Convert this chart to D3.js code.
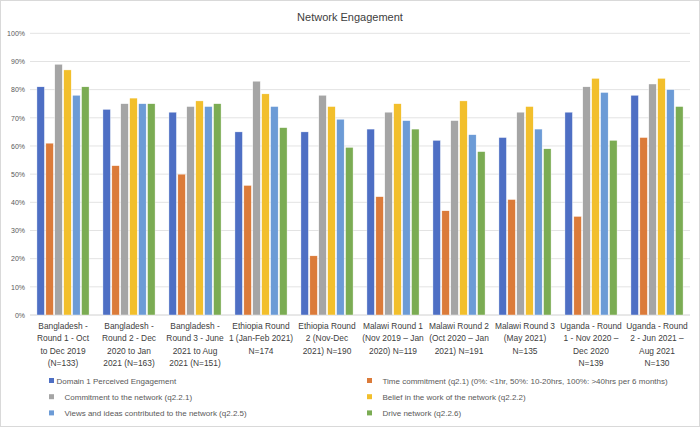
<!DOCTYPE html>
<html><head><meta charset="utf-8">
<script src="https://cdn.jsdelivr.net/npm/d3@7"></script>
<style>
body{margin:0;background:#fff;}
text{font-family:"Liberation Sans",Arial,sans-serif;fill:#404040;}
</style></head>
<body><svg id="c" width="700" height="427"></svg>
<script>
const categories = [
  ["Bangladesh -","Round 1 - Oct","to Dec 2019","(N=133)"],
  ["Bangladesh -","Round 2 - Dec","2020 to Jan","2021 (N=163)"],
  ["Bangladesh -","Round 3 - June","2021 to Aug","2021 (N=151)"],
  ["Ethiopia Round","1 (Jan-Feb 2021)","N=174"],
  ["Ethiopia Round","2 (Nov-Dec","2021) N=190"],
  ["Malawi Round 1","(Nov 2019 \u2013 Jan","2020) N=119"],
  ["Malawi Round 2","(Oct 2020 \u2013 Jan","2021) N=191"],
  ["Malawi Round 3","(May 2021)","N=135"],
  ["Uganda - Round","1 - Nov 2020 \u2013","Dec 2020","N=139"],
  ["Uganda - Round","2 - Jun 2021 \u2013","Aug 2021","N=130"]
];
const seriesNames = [
  "Domain 1 Perceived Engagement",
  "Time commitment (q2.1) (0%: <1hr, 50%: 10-20hrs, 100%: >40hrs per 6 months)",
  "Commitment to the network (q2.2.1)",
  "Belief in the work of the network (q2.2.2)",
  "Views and ideas contributed to the network (q2.2.5)",
  "Drive network (q2.2.6)"
];
const colors = ["#4E6FC4","#DB7B3A","#A5A5A5","#F2BF2C","#6C9BD6","#7BAC53"];
const domain1    = [81,73,72,65,65,66,62,63,72,78];
const timeCommit = [61,53,50,46,21,42,37,41,35,63];
const commitment = [89,75,74,83,78,72,69,72,81,82];
const belief     = [87,77,76,78.5,74,75,76,74,84,84];
const views      = [78,75,74,74,69.5,69,64,66,79,80];
const drive      = [81,75,75,66.5,59.5,66,58,59,62,74];
const series = [domain1,timeCommit,commitment,belief,views,drive];
const yTicks = [0,10,20,30,40,50,60,70,80,90,100];

const svg = d3.select("#c");
svg.append("rect").attr("x",0.5).attr("y",0.5).attr("width",699).attr("height",426)
  .attr("fill","#fff").attr("stroke","#d9d9d9");

svg.append("text").attr("x",350).attr("y",21).attr("text-anchor","middle")
  .style("font-size","11px").text("Network Engagement");

const L=30,R=690,T=33.3,B=315;
const x0 = d3.scaleBand().domain(d3.range(categories.length)).range([L,R]).paddingInner(0.21).paddingOuter(0.105);
const x1 = d3.scaleBand().domain(d3.range(series.length)).range([0,x0.bandwidth()]).paddingInner(0.16);
const y = d3.scaleLinear().domain([0,100]).range([B,T]);

// gridlines
svg.append("g").selectAll("line").data(yTicks).join("line")
  .attr("x1",L).attr("x2",R).attr("y1",d=>y(d)).attr("y2",d=>y(d))
  .attr("stroke",d=>d===0?"#d0d0d0":"#e3e3e3").attr("stroke-width",1);

// y labels
const yAxis = d3.axisLeft(y).tickValues(yTicks).tickFormat(d=>d+"%").tickSize(0).tickPadding(5);
const ya = svg.append("g").attr("transform",`translate(${L},0)`).call(yAxis);
ya.select(".domain").remove();
ya.selectAll("text").style("font-size","7px").style("fill","#595959").style("font-family","Liberation Sans, Arial, sans-serif");

// bars
const groups = svg.append("g").selectAll("g").data(categories).join("g")
  .attr("transform",(d,i)=>`translate(${x0(i)},0)`);
groups.selectAll("rect").data((d,i)=>series.map((s,j)=>({j,v:s[i]}))).join("rect")
  .attr("x",d=>x1(d.j)).attr("width",x1.bandwidth())
  .attr("y",d=>y(d.v)).attr("height",d=>B-y(d.v))
  .attr("fill",d=>colors[d.j]).attr("stroke","#fff").attr("stroke-width",0.4);

// x labels
const xl = svg.append("g").selectAll("text").data(categories).join("text")
  .attr("x",(d,i)=>x0(i)+x0.bandwidth()/2).attr("y",329)
  .attr("text-anchor","middle").style("font-size","8.4px").style("fill","#404040");
xl.selectAll("tspan").data(d=>d).join("tspan")
  .attr("x",function(){return this.parentNode.getAttribute("x");})
  .attr("dy",(d,k)=>k===0?0:12.3).text(d=>d);

// legend
const leg = svg.append("g").selectAll("g").data(seriesNames).join("g")
  .attr("transform",(d,i)=>`translate(${i%2===0?49:367},${381+Math.floor(i/2)*16.2})`);
leg.append("rect").attr("x",0).attr("y",-3).attr("width",5).attr("height",5).attr("fill",(d,i)=>colors[i]);
leg.append("text").attr("x",(d,i)=>i===0?7.5:15.5).attr("y",2.7).style("font-size","8px").style("fill","#595959").text(d=>d);
</script></body></html>
